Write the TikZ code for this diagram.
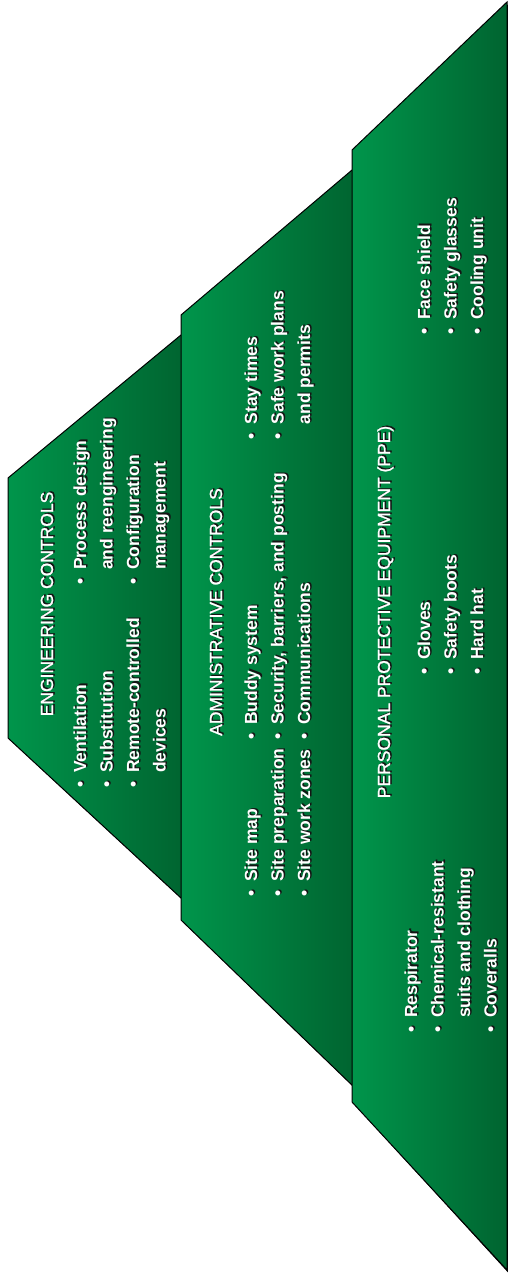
\documentclass[tikz,border=0pt]{standalone}
\usepackage{fontspec}
\setmainfont{Liberation Sans}
\newfontfamily\headfont[FakeBold=1.2]{Liberation Sans}
\definecolor{glight}{HTML}{00954B}
\definecolor{gdark}{HTML}{006430}
\definecolor{tshadow}{HTML}{141414}
% bullet with a fixed hanging width
\newcommand\bul{\makebox[15pt][l]{\textbullet}}
% one line of text with its drop shadow
\newcommand\pline[4]{%
  \node[itemsh] (#1s) at (#2+1.5,#3-1.2) {#4};
  \node[itemtx] (#1) at (#2,#3) {#4};}
\newcommand\ptitle[4]{%
  \node[titlesh] (#1s) at (#2+1.5,#3-1.2) {#4};
  \node[titletx] (#1) at (#2,#3) {#4};}
\begin{document}
\begin{tikzpicture}[x=1pt,y=-1pt,
  itemtx/.style={rotate=90,anchor=base west,inner sep=0pt,text=white,
    font=\fontsize{17.5}{21}\selectfont\bfseries},
  itemsh/.style={itemtx,text=tshadow},
  titletx/.style={rotate=90,anchor=base,inner sep=0pt,text=white,
    font=\fontsize{17.5}{21}\headfont},
  titlesh/.style={titletx,text=tshadow},
  tier/.style={left color=glight,right color=gdark,draw=black,line width=1pt,line join=miter},
  tiershadow/.style={fill=black}]
\useasboundingbox (0,0) rectangle (508,1275);

% engineering controls tier
\fill[tiershadow] (9.5,479.5) -- (185.5,334) -- (185.5,902.3) -- (9.5,739.5) -- cycle;
\path[tier] (8,478) -- (184,332.5) -- (184,900.8) -- (8,738) -- cycle;

% administrative controls tier
\fill[tiershadow] (182.5,316.5) -- (356.5,169) -- (356.5,1089.5) -- (182.5,921.5) -- cycle;
\path[tier] (181,315) -- (355,167.5) -- (355,1088) -- (181,920) -- cycle;

% personal protective equipment tier
\fill[tiershadow] (353.5,151.5) -- (509,3.5) -- (509,1273.5) -- (353.5,1103.5) -- cycle;
\path[tier] (352,150) -- (507,2) -- (507,1270) -- (352,1102) -- cycle;

% engineering controls text
\ptitle{et}{53}{604}{ENGINEERING CONTROLS}
\pline{e1}{86}{788}{\bul Ventilation}
\pline{e2}{112.5}{788}{\bul Substitution}
\pline{e3}{139}{788}{\bul Remote-controlled}
\pline{e4}{165.5}{773}{devices}
\pline{e5}{86}{585}{\bul Process design}
\pline{e6}{112.5}{570}{and reengineering}
\pline{e7}{139}{585}{\bul Configuration}
\pline{e8}{165.5}{570}{management}

% administrative controls text
\ptitle{at}{222}{612}{ADMINISTRATIVE CONTROLS}
\pline{a1}{257}{897}{\bul Site map}
\pline{a2}{283.5}{897}{\bul Site preparation}
\pline{a3}{310}{897}{\bul Site work zones}
\pline{a4}{257}{740}{\bul Buddy system}
\pline{a5}{283.5}{740}{\bul Security, barriers, and posting}
\pline{a6}{310}{740}{\bul Communications}
\pline{a7}{257}{439.5}{\bul Stay times}
\pline{a8}{283.5}{439.5}{\bul Safe work plans}
\pline{a9}{310}{424.5}{and permits}

% personal protective equipment text
\ptitle{pt}{390}{612}{PERSONAL PROTECTIVE EQUIPMENT (PPE)}
\pline{p1}{417}{1033}{\bul Respirator}
\pline{p2}{443.5}{1033}{\bul Chemical-resistant}
\pline{p3}{470}{1018}{suits and clothing}
\pline{p4}{496.5}{1033}{\bul Coveralls}
\pline{p5}{430}{675}{\bul Gloves}
\pline{p6}{456.5}{675}{\bul Safety boots}
\pline{p7}{483}{675}{\bul Hard hat}
\pline{p8}{430}{335}{\bul Face shield}
\pline{p9}{456.5}{335}{\bul Safety glasses}
\pline{p10}{483}{335}{\bul Cooling unit}
\end{tikzpicture}
\end{document}
